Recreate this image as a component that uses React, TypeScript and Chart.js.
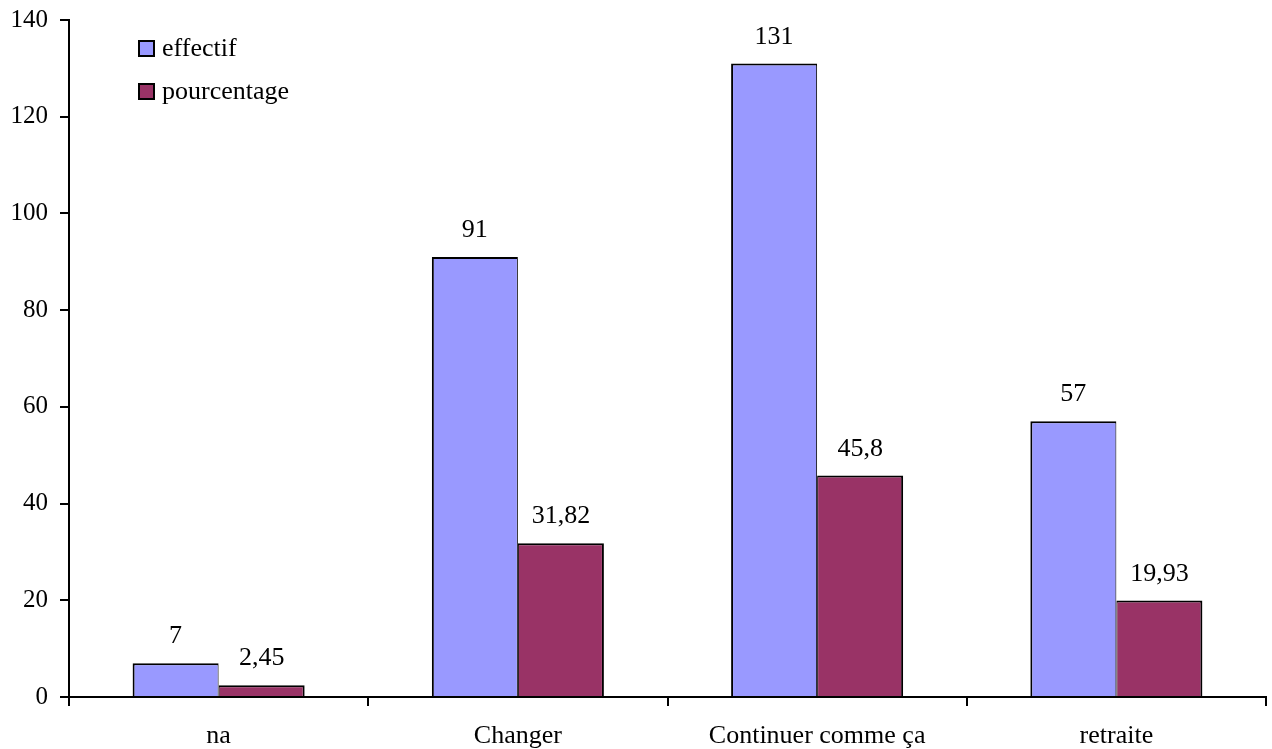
import React, { useEffect, useRef } from "react";
import { Chart, registerables } from "chart.js";

Chart.register(...registerables);

const categories = ["na", "Changer", "Continuer comme ça", "retraite"];
const effectif = [7, 91, 131, 57];
const pourcentage = [2.45, 31.82, 45.8, 19.93];
const seriesNames = ["effectif", "pourcentage"];
const seriesColors = ["#9999FF", "#993366"];
const yMin = 0;
const yMax = 140;
const yStep = 20;

const FONT = '"Liberation Serif", "Times New Roman", serif';
const SIZE = 26;
const Y_SIZE = 25;

const fmt = (v: number) => String(v).replace(".", ",");

// Writes each bar's value above it, with a decimal comma
const valueLabels = {
  id: "valueLabels",
  afterDatasetsDraw(chart: any) {
    const ctx = chart.ctx;
    ctx.save();
    ctx.font = `${SIZE}px ${FONT}`;
    ctx.fillStyle = "#000";
    ctx.textAlign = "center";
    ctx.textBaseline = "alphabetic";
    chart.data.datasets.forEach((ds: any, i: number) => {
      const meta = chart.getDatasetMeta(i);
      meta.data.forEach((bar: any, j: number) => {
        ctx.fillText(fmt(ds.data[j]), bar.x, bar.y - 20);
      });
    });
    ctx.restore();
  },
};

// Legend drawn inside the plot, top left
const innerLegend = {
  id: "innerLegend",
  afterDraw(chart: any) {
    const ctx = chart.ctx;
    ctx.save();
    ctx.font = `${SIZE}px ${FONT}`;
    ctx.textBaseline = "alphabetic";
    ctx.textAlign = "left";
    chart.data.datasets.forEach((ds: any, i: number) => {
      const x = 139;
      const y = 41 + i * 43;
      ctx.fillStyle = ds.backgroundColor;
      ctx.fillRect(x, y, 15, 15);
      ctx.lineWidth = 2;
      ctx.strokeStyle = "#000";
      ctx.strokeRect(x, y, 15, 15);
      ctx.fillStyle = "#000";
      ctx.fillText(ds.label, x + 23, y + 15);
    });
    ctx.restore();
  },
};

export default function App() {
  const ref = useRef<HTMLCanvasElement | null>(null);

  useEffect(() => {
    if (!ref.current) return;
    const chart = new Chart(ref.current, {
      type: "bar",
      data: {
        labels: categories,
        datasets: [
          {
            label: seriesNames[0],
            data: effectif,
            backgroundColor: seriesColors[0],
            borderColor: "#000",
            // the shared edge with the neighbouring bar gets half the width on each side
            borderWidth: { top: 2, left: 2, right: 1, bottom: 0 },
            borderSkipped: false,
            inflateAmount: 0,
            categoryPercentage: 0.575,
            barPercentage: 1,
          },
          {
            label: seriesNames[1],
            data: pourcentage,
            backgroundColor: seriesColors[1],
            borderColor: "#000",
            borderWidth: { top: 2, left: 1, right: 2, bottom: 0 },
            borderSkipped: false,
            inflateAmount: 0,
            categoryPercentage: 0.575,
            barPercentage: 1,
          },
        ],
      },
      options: {
        responsive: false,
        animation: false,
        devicePixelRatio: 1,
        layout: { padding: { top: 20, right: 6, left: 0, bottom: 0 } },
        plugins: {
          legend: { display: false },
          tooltip: { enabled: false },
        },
        scales: {
          x: {
            offset: true,
            grid: {
              offset: true,
              drawOnChartArea: false,
              drawTicks: true,
              tickLength: 9,
              color: "#000",
              lineWidth: 2,
            },
            border: { display: true, color: "#000", width: 2 },
            ticks: {
              color: "#000",
              font: { family: FONT, size: SIZE },
              padding: 15,
              maxRotation: 0,
            },
            afterFit(scale: any) {
              scale.height = 52;
              scale.paddingLeft = 0;
              scale.paddingRight = 0;
            },
          },
          y: {
            min: yMin,
            max: yMax,
            grid: {
              drawOnChartArea: false,
              drawTicks: true,
              tickLength: 9,
              color: "#000",
              lineWidth: 2,
            },
            border: { display: true, color: "#000", width: 2 },
            ticks: {
              stepSize: yStep,
              color: "#000",
              font: { family: FONT, size: Y_SIZE },
              padding: 12,
            },
            afterFit(scale: any) {
              scale.width = 69;
              scale.paddingTop = 0;
              scale.paddingBottom = 0;
            },
          },
        },
      },
      plugins: [valueLabels, innerLegend],
    });
    return () => chart.destroy();
  }, []);

  return (
    <div style={{ position: "absolute", left: 0, top: 0, width: 1272, height: 749, background: "#fff" }}>
      <canvas ref={ref} width={1272} height={749} />
    </div>
  );
}
